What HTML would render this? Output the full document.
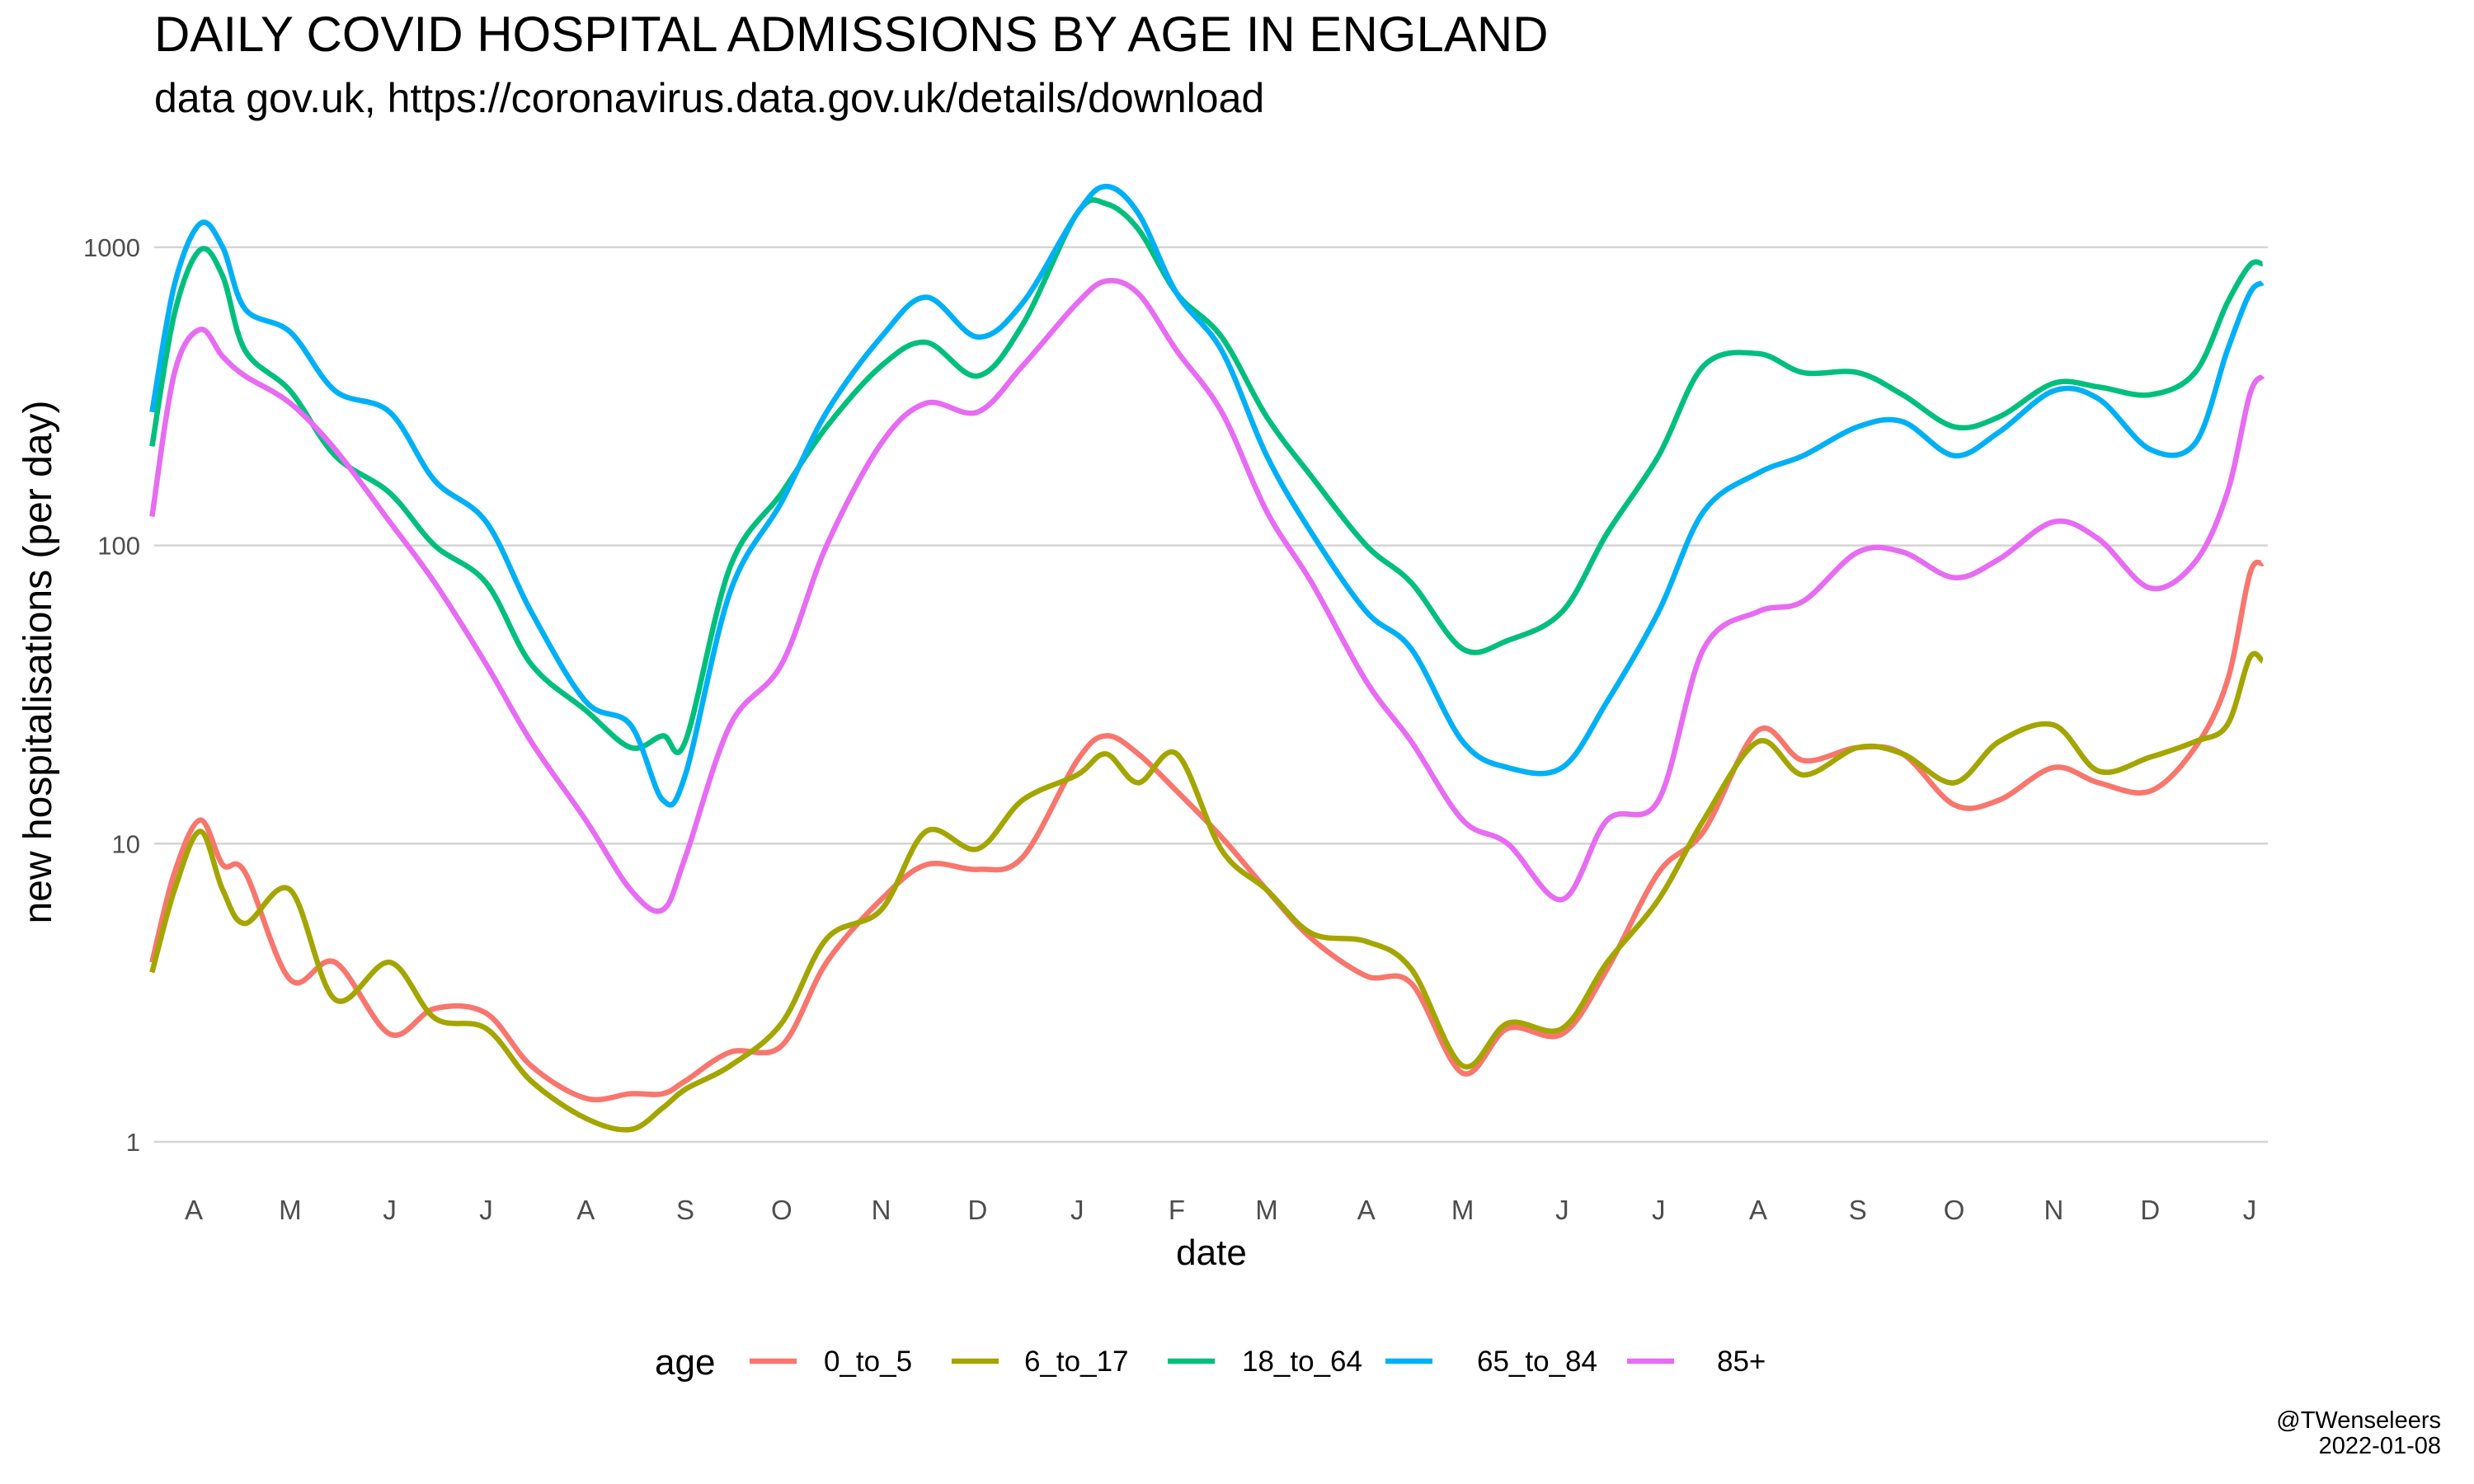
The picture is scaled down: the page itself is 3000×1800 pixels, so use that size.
<!DOCTYPE html>
<html><head><meta charset="utf-8"><style>
body{margin:0;background:#fff}
svg{display:block;font-family:"Liberation Sans",sans-serif}
</style></head><body>
<svg id="chart" width="3000" height="1800" viewBox="0 0 3000 1800">
<text x="187" y="62" font-size="60" fill="#000">DAILY COVID HOSPITAL ADMISSIONS BY AGE IN ENGLAND</text>
<text x="187" y="136" font-size="50" fill="#000">data gov.uk, https://coronavirus.data.gov.uk/details/download</text>
<g id="grid"></g>
<g id="series"></g>
<g id="yticks"></g>
<g id="xticks"></g>
<text transform="translate(62,803) rotate(-90)" text-anchor="middle" font-size="48">new hospitalisations (per day)</text>
<text x="1469" y="1534" text-anchor="middle" font-size="44">date</text>
<g id="legend"><text x="794" y="1667" font-size="44">age</text></g>
<text x="2960" y="1732" text-anchor="end" font-size="29">@TWenseleers</text>
<text x="2960" y="1763" text-anchor="end" font-size="29">2022-01-08</text>
</svg>
<script>
const dates=["2020-03-19","2020-03-26","2020-04-03","2020-04-10","2020-04-17","2020-05-01","2020-05-15","2020-06-01","2020-06-15","2020-07-01","2020-07-15","2020-08-01","2020-08-15","2020-08-25","2020-09-01","2020-09-15","2020-10-01","2020-10-15","2020-11-01","2020-11-15","2020-12-01","2020-12-15","2021-01-01","2021-01-10","2021-01-20","2021-02-01","2021-02-15","2021-03-01","2021-03-15","2021-04-01","2021-04-15","2021-05-01","2021-05-15","2021-06-01","2021-06-15","2021-07-01","2021-07-15","2021-08-01","2021-08-15","2021-09-01","2021-09-15","2021-10-01","2021-10-15","2021-11-01","2021-11-15","2021-12-01","2021-12-15","2021-12-25","2022-01-01","2022-01-05"];
const age0to5=[4,8,12,8.5,8,3.5,4,2.3,2.8,2.7,1.8,1.4,1.45,1.45,1.6,2,2.1,4,6.5,8.5,8.2,9,19,23,20,15,10.5,7,4.8,3.6,3.4,1.7,2.4,2.3,3.8,8,11,24,19,21,20,13.5,14,18,16,15,21,35,80,87];
const age6to17=[3.7,7,11,7,5.4,7,3,4,2.6,2.4,1.6,1.2,1.1,1.3,1.5,1.8,2.5,4.8,6,11,9.6,14,17,20,16,20,9.5,7,5,4.7,3.8,1.8,2.5,2.4,4,6.5,12,22,17,21,20,16,22,25,17.5,19.5,22,25,42,41];
const age18to64=[215,600,980,800,450,330,200,150,100,75,40,28,21,23,22,85,150,250,400,480,370,550,1300,1400,1150,700,500,270,170,100,75,45,48,60,110,200,400,440,380,380,320,250,270,350,340,320,380,650,870,880];
const age65to84=[280,750,1200,1000,620,520,330,280,165,120,60,30,25,14,17,70,140,280,500,680,500,650,1300,1600,1300,700,450,200,110,60,45,22,18,18,30,60,130,175,200,250,260,200,240,330,310,210,220,450,700,760];
const age85plus=[125,380,530,430,370,300,210,120,75,40,22,12,7,6,9,25,40,100,220,300,280,400,650,770,700,450,280,130,75,35,22,12,10,6.5,12,14,45,60,65,95,95,78,90,120,105,72,88,150,320,370];
const seriesNames=["0_to_5","6_to_17","18_to_64","65_to_84","85+"];
const yTicks=[1,10,100,1000];
const xTickDates=["2020-04-01","2020-05-01","2020-06-01","2020-07-01","2020-08-01","2020-09-01","2020-10-01","2020-11-01","2020-12-01","2021-01-01","2021-02-01","2021-03-01","2021-04-01","2021-05-01","2021-06-01","2021-07-01","2021-08-01","2021-09-01","2021-10-01","2021-11-01","2021-12-01","2022-01-01"];
const xTickLabels=["A","M","J","J","A","S","O","N","D","J","F","M","A","M","J","J","A","S","O","N","D","J"];

const NS="http://www.w3.org/2000/svg";
const colors=["#F8766D","#A3A500","#00BF7D","#00B0F6","#E76BF3"];
const allSeries=[age0to5,age6to17,age18to64,age65to84,age85plus];
const t0=Date.parse("2020-04-01"),t1=Date.parse("2022-01-01");
function xs(d){return 235+(Date.parse(d)-t0)/(t1-t0)*(2728-235);}
function ys(v){return 1385-(Math.log10(v))*361.7;}
function mk(tag,attrs,parent){const e=document.createElementNS(NS,tag);for(const k in attrs)e.setAttribute(k,attrs[k]);parent.appendChild(e);return e;}
const grid=document.getElementById('grid'),yt=document.getElementById('yticks'),xt=document.getElementById('xticks');
yTicks.forEach(v=>{
  const l=mk('line',{x1:187,x2:2750,y1:ys(v),y2:ys(v),stroke:'#d4d4d4','stroke-width':2.5},grid);
  
  
  const t=mk('text',{x:170,y:ys(v)+11,'text-anchor':'end','font-size':31,fill:'#4d4d4d'},yt);
  t.textContent=v;
  
  
});
xTickDates.forEach((d,i)=>{
  const t=mk('text',{x:xs(d),y:1479,'text-anchor':'middle','font-size':33,fill:'#4d4d4d'},xt);
  t.textContent=xTickLabels[i];
  
  
});
const sg=document.getElementById('series');
allSeries.forEach((vals,si)=>{
  const p=dates.map((d,i)=>[xs(d),ys(vals[i])]);
  let s="M"+p[0][0]+","+p[0][1];
  for(let i=0;i<p.length-1;i++){
    const a=p[Math.max(0,i-1)],b=p[i],c=p[i+1],e=p[Math.min(p.length-1,i+2)];
    const c1=[b[0]+(c[0]-a[0])/6,b[1]+(c[1]-a[1])/6],c2=[c[0]-(e[0]-b[0])/6,c[1]-(e[1]-b[1])/6];
    s+=" C"+c1[0]+","+c1[1]+" "+c2[0]+","+c2[1]+" "+c[0]+","+c[1];
  }
  const path=mk('path',{d:s,fill:'none',stroke:colors[si],'stroke-width':6.5,'stroke-linejoin':'round'},sg);
  
  
});
const lg=document.getElementById('legend');
const keyX=[909,1154,1416,1680,1973],labX=[999,1242,1506,1791,2082];
seriesNames.forEach((n,i)=>{
  const l=mk('line',{x1:keyX[i],x2:keyX[i]+57,y1:1651,y2:1651,stroke:colors[i],'stroke-width':6.5},lg);
  
  
  const t=mk('text',{x:labX[i],y:1663,'font-size':35},lg);
  t.textContent=n;
  
  
});
</script>
</body></html>
